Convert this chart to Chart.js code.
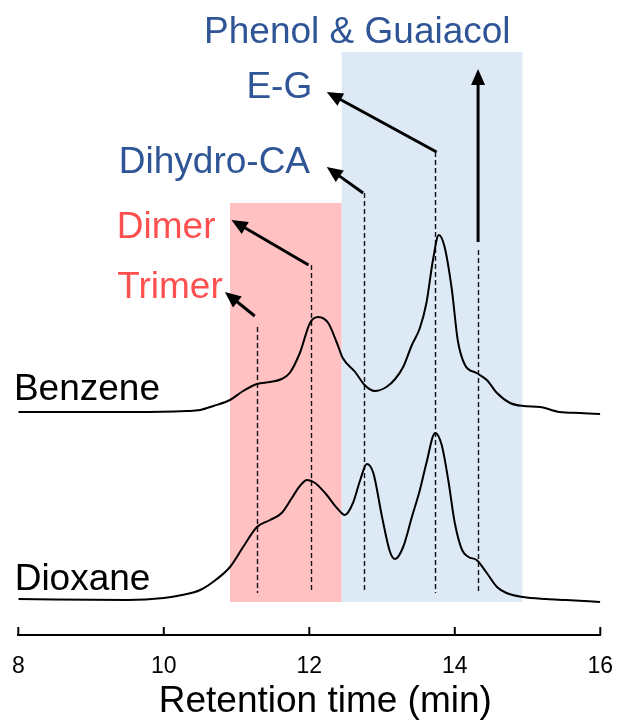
<!DOCTYPE html>
<html lang="en">
<head>
<meta charset="UTF-8" />
<title>Retention time</title>
<script src="https://cdn.jsdelivr.net/npm/chart.js"></script>
<style>
  html, body { margin: 0; padding: 0; background: #fff; }
</style>
</head>
<body>
<canvas id="grafico" width="618" height="724"></canvas>
<script>
  // chromatograms: retention time (min) and signal (vertical units, trace offset included)
  const benzeneX = [8.0, 9.58, 10.31, 10.5, 10.68, 10.91, 11.09, 11.28, 11.46, 11.62, 11.73, 11.87, 12.01, 12.12, 12.26, 12.38, 12.46, 12.63, 12.76, 12.9, 13.06, 13.18, 13.29, 13.41, 13.52, 13.61, 13.7, 13.78, 13.86, 13.96, 14.04, 14.14, 14.3, 14.44, 14.58, 14.76, 14.94, 15.17, 15.44, 15.72, 16.0]
  const benzeneY = [223, 223, 224, 225, 229, 235, 244, 251, 253, 256, 262, 282, 312, 318, 312, 292, 277, 263, 250, 244, 248, 256, 268, 290, 307, 332, 375, 400, 388, 345, 295, 270, 262, 255, 242, 232, 229, 228, 223, 222, 221]

  const dioxaneX = [8.0, 9.5, 10.0, 10.25, 10.5, 10.73, 10.91, 11.09, 11.28, 11.46, 11.62, 11.76, 11.87, 11.97, 12.08, 12.24, 12.38, 12.49, 12.6, 12.7, 12.79, 12.88, 13.0, 13.11, 13.18, 13.29, 13.41, 13.52, 13.61, 13.73, 13.82, 13.91, 14.0, 14.1, 14.19, 14.3, 14.44, 14.58, 14.71, 14.94, 15.26, 15.53, 16.0]
  const dioxaneY = [36, 35, 37, 40, 45, 56, 68, 88, 108, 115, 122, 137, 149, 155, 152, 140, 127, 120, 132, 155, 171, 162, 118, 83, 76, 88, 118, 145, 172, 202, 190, 155, 112, 85, 78, 75, 62, 48, 42, 38, 36, 35, 33]

  const traceNames = ["Benzene", "Dioxane"]
  const traceLabelX = [7.94, 7.95]
  const traceLabelY = [235, 45]

  // shaded regions (oligomers / monomers)
  const regionStart = [10.91, 12.445]
  const regionEnd = [12.445, 14.93]
  const regionTop = [432, 583]
  const regionBottom = 33

  // peak markers
  const peakNames = ["Trimer", "Dimer", "Dihydro-CA", "E-G", "Phenol & Guaiacol"]
  const peakX = [11.285, 12.02, 12.75, 13.73, 14.32]
  const peakTop = [308, 370, 442, 483, 385]
  const peakBottom = 42
  const arrowFromX = [11.25, 11.99, 12.74, 13.75, 14.32]
  const arrowFromY = [319, 370, 442, 483, 393]
  const arrowToX = [10.84, 10.93, 12.24, 12.24, 14.32]
  const arrowToY = [343, 415, 468, 543, 566]
  const peakLabelX = [10.81, 10.71, 12.01, 12.04, 12.66]
  const peakLabelY = [337, 397, 462, 537, 592]

  const xTicks = [8, 10, 12, 14, 16]
  const xTitle = "Retention time (min)"

  const fonte = '"Liberation Sans", Arial, sans-serif'
  const vermelho = "#FF5050"
  const azul = "#2F5597"

  function pontos(xs, ys) {
    return xs.map((x, i) => ({ x: x, y: ys[i] }))
  }

  const anotacoes = {
    id: "anotacoes",
    beforeDatasetsDraw(chart) {
      const { ctx, scales } = chart
      const x = scales.x
      const y = scales.y
      const cores = ["#FFC1C1", "#DDE9F5"]
      ctx.save()
      regionStart.forEach((ini, i) => {
        const x1 = x.getPixelForValue(ini)
        const x2 = x.getPixelForValue(regionEnd[i])
        const y1 = y.getPixelForValue(regionTop[i])
        const y2 = y.getPixelForValue(regionBottom)
        ctx.fillStyle = cores[i]
        ctx.fillRect(x1, y1, x2 - x1, y2 - y1)
      })
      // dashed lines under the peaks
      ctx.strokeStyle = "#111"
      ctx.lineWidth = 1.4
      ctx.setLineDash([5, 3])
      peakX.forEach((px, i) => {
        const xp = Math.round(x.getPixelForValue(px)) + 0.5
        ctx.beginPath()
        ctx.moveTo(xp, y.getPixelForValue(peakTop[i]))
        ctx.lineTo(xp, y.getPixelForValue(peakBottom))
        ctx.stroke()
      })
      ctx.restore()
    },
    afterDraw(chart) {
      const { ctx, scales, chartArea } = chart
      const x = scales.x
      const y = scales.y
      ctx.save()
      // tick marks pointing up
      ctx.strokeStyle = "#000"
      ctx.lineWidth = 2
      xTicks.forEach((t) => {
        const xp = x.getPixelForValue(t)
        ctx.beginPath()
        ctx.moveTo(xp, chartArea.bottom)
        ctx.lineTo(xp, chartArea.bottom - 8)
        ctx.stroke()
      })
      // arrows
      ctx.fillStyle = "#000"
      ctx.lineWidth = 3
      arrowFromX.forEach((fx, i) => {
        const x1 = x.getPixelForValue(fx)
        const y1 = y.getPixelForValue(arrowFromY[i])
        const x2 = x.getPixelForValue(arrowToX[i])
        const y2 = y.getPixelForValue(arrowToY[i])
        const ang = Math.atan2(y2 - y1, x2 - x1)
        const cab = 16
        const larg = 7
        const bx = x2 - cab * Math.cos(ang)
        const by = y2 - cab * Math.sin(ang)
        ctx.beginPath()
        ctx.moveTo(x1, y1)
        ctx.lineTo(bx + 2 * Math.cos(ang), by + 2 * Math.sin(ang))
        ctx.stroke()
        ctx.beginPath()
        ctx.moveTo(x2, y2)
        ctx.lineTo(bx - larg * Math.sin(ang), by + larg * Math.cos(ang))
        ctx.lineTo(bx + larg * Math.sin(ang), by - larg * Math.cos(ang))
        ctx.closePath()
        ctx.fill()
      })
      // labels
      ctx.font = "37px " + fonte
      ctx.textBaseline = "alphabetic"
      peakNames.forEach((nome, i) => {
        ctx.fillStyle = i < 2 ? vermelho : azul
        ctx.textAlign = i === peakNames.length - 1 ? "center" : "right"
        ctx.fillText(nome, x.getPixelForValue(peakLabelX[i]), y.getPixelForValue(peakLabelY[i]))
      })
      ctx.fillStyle = "#000"
      ctx.textAlign = "left"
      traceNames.forEach((nome, i) => {
        ctx.fillText(nome, x.getPixelForValue(traceLabelX[i]), y.getPixelForValue(traceLabelY[i]))
      })
      // axis title
      ctx.textAlign = "center"
      ctx.fillText(xTitle, (chartArea.left + chartArea.right) / 2 + 16, chartArea.bottom + 77)
      ctx.restore()
    },
  }

  const grafico = document.getElementById("grafico")
  new Chart(grafico, {
    type: "line",
    data: {
      datasets: [
        {
          label: traceNames[0],
          data: pontos(benzeneX, benzeneY),
          borderColor: "#000",
          borderWidth: 2,
          pointRadius: 0,
          cubicInterpolationMode: "monotone",
        },
        {
          label: traceNames[1],
          data: pontos(dioxaneX, dioxaneY),
          borderColor: "#000",
          borderWidth: 2,
          pointRadius: 0,
          cubicInterpolationMode: "monotone",
        },
      ],
    },
    options: {
      responsive: false,
      animation: false,
      devicePixelRatio: 1,
      layout: { padding: { left: 18.3, right: 17.7, top: 0, bottom: 43.9 } },
      plugins: { legend: { display: false }, tooltip: { enabled: false } },
      scales: {
        x: {
          type: "linear",
          min: 8,
          max: 16,
          afterBuildTicks: (s) => { s.ticks = xTicks.map((v) => ({ value: v })) },
          ticks: { color: "#000", padding: 0, font: { family: fonte, size: 23 } },
          grid: { display: false, drawTicks: true, tickLength: 17.5, color: "rgba(0,0,0,0)" },
          border: { display: true, color: "#000", width: 2 },
        },
        y: { display: false, min: 0, max: 635 },
      },
    },
    plugins: [anotacoes],
  })
</script>
</body>
</html>
